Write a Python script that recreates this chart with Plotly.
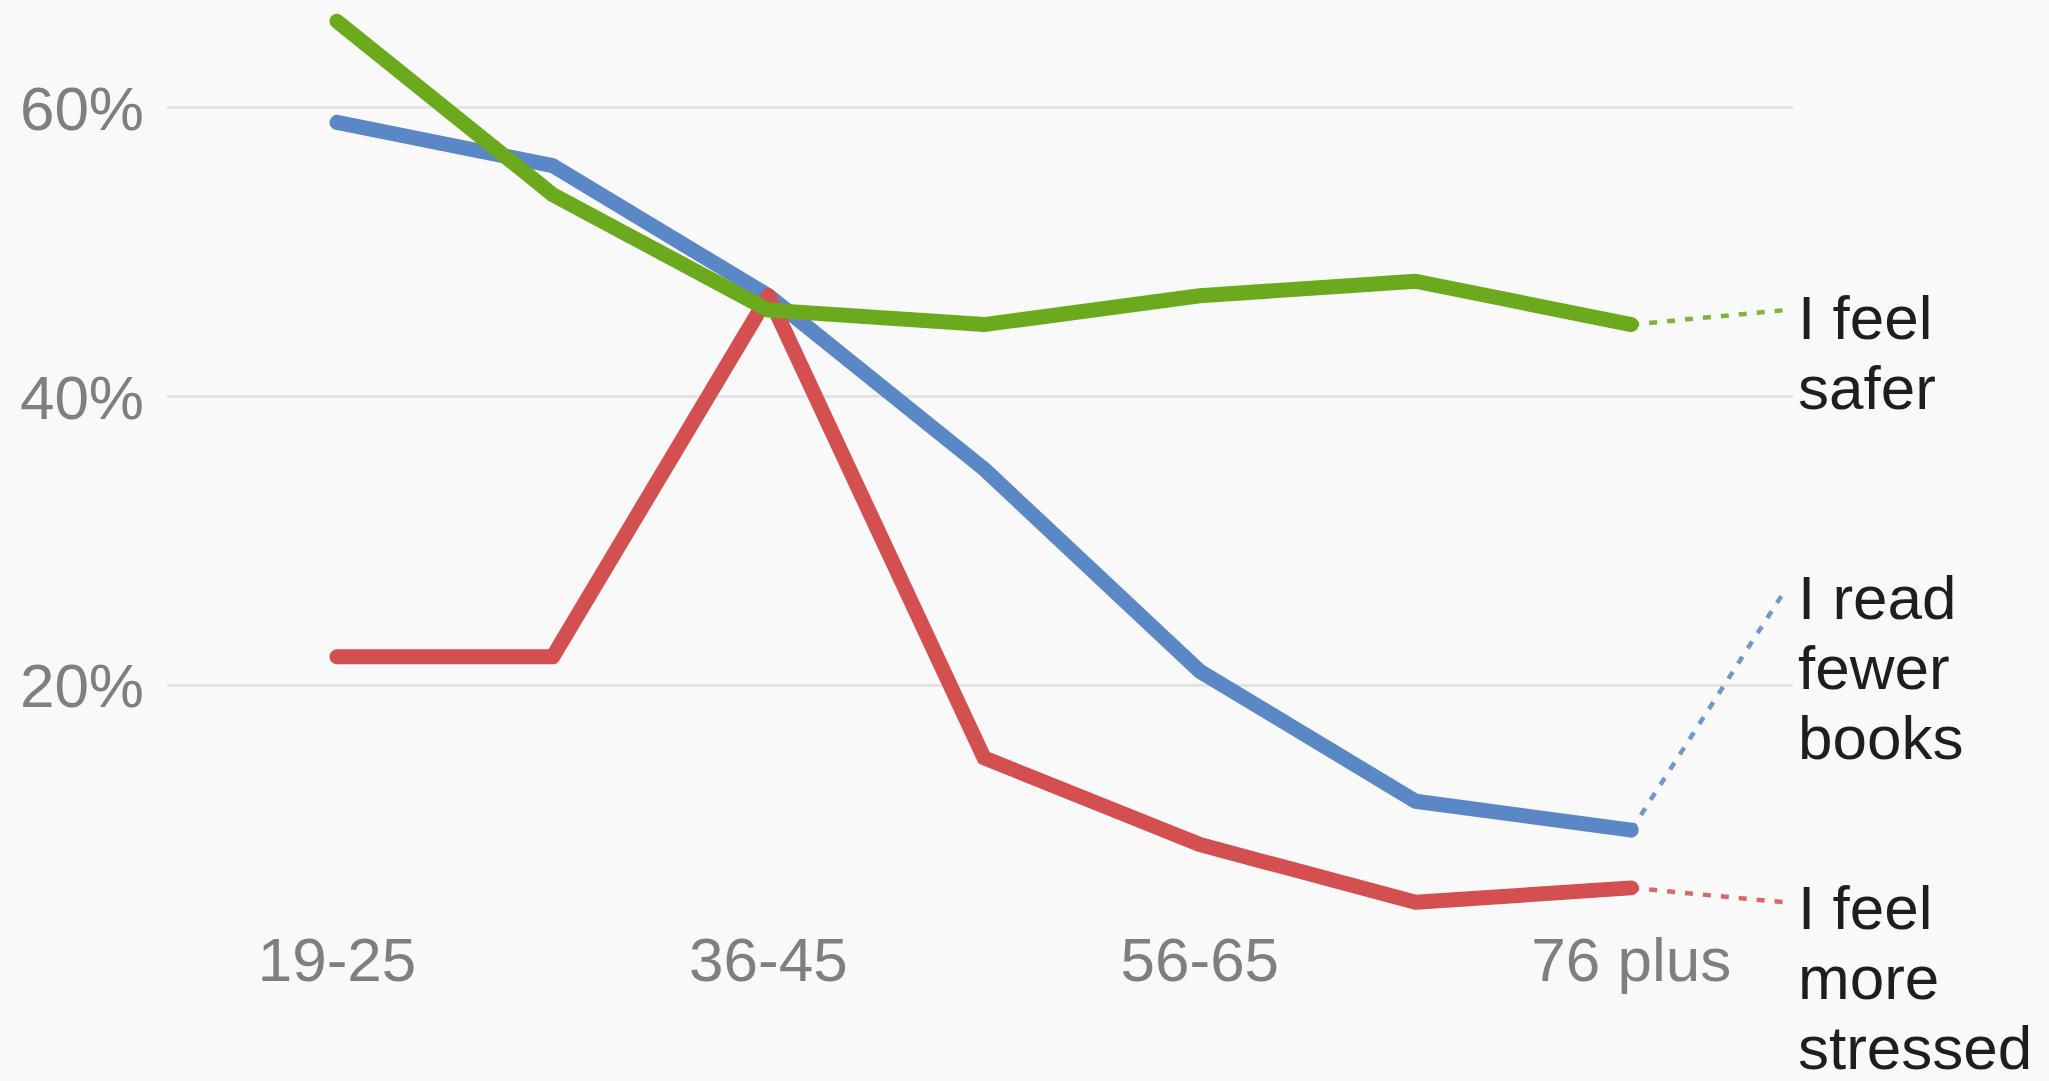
import plotly.graph_objects as go

# Age groups along the x axis (only every other one is labelled)
age_groups = ["19-25", "26-35", "36-45", "46-55", "56-65", "66-75", "76 plus"]
shown_ticks = ["19-25", "36-45", "56-65", "76 plus"]

# Share of respondents (%) per age group
fewer_books = [59, 56, 47, 35, 21, 12, 10]
more_stressed = [22, 22, 47, 15, 9, 5, 6]
feel_safer = [66, 54, 46, 45, 47, 48, 45]

y_ticks = [20, 40, 60]
y_tick_labels = ["20%", "40%", "60%"]

series_names = ["I read fewer books", "I feel more stressed", "I feel safer"]
series_values = [fewer_books, more_stressed, feel_safer]
label_lines = [["I read", "fewer", "books"], ["I feel", "more", "stressed"], ["I feel", "safer"]]

# Styling and label placement
colors = ["#5a87c5", "#d44f50", "#6aaa1c"]
X_RANGE = [-0.788, 6.75]
Y_RANGE = [3.5, 66.78]
label_anchor_y = [26.6, 5.0, 46.0]   # where each dotted leader ends (data units)
label_text_y = [26.1, 4.65, 45.5]    # centre of each label's first line (data units)
leader_end_x = 6.713
label_x_paper = 1.0031
line_step = 4.86                      # vertical distance between label lines (data units)
FONT = "Liberation Sans, Arial, Helvetica, sans-serif"


def y_to_paper(v):
    return (v - Y_RANGE[0]) / (Y_RANGE[1] - Y_RANGE[0])


x_pos = list(range(len(age_groups)))

fig = go.Figure()

for name, vals, col, ly in zip(series_names, series_values, colors, label_anchor_y):
    fig.add_trace(go.Scatter(
        x=x_pos, y=vals, mode="lines", name=name,
        line=dict(color=col, width=15),
        hoverinfo="skip",
    ))
    # dotted leader from the last point to the series label
    fig.add_trace(go.Scatter(
        x=[x_pos[-1], leader_end_x], y=[vals[-1], ly], mode="lines",
        line=dict(color=col, width=4.5, dash="8px,10px"),
        opacity=0.85, hoverinfo="skip", showlegend=False,
    ))

for lines, ty in zip(label_lines, label_text_y):
    for i, txt in enumerate(lines):
        fig.add_annotation(
            x=label_x_paper, y=y_to_paper(ty - i * line_step),
            xref="paper", yref="paper",
            text=txt, showarrow=False, xanchor="left", yanchor="middle",
            borderpad=0, borderwidth=0,
            font=dict(family=FONT, size=62, color="#1e1e1e"),
        )

fig.update_layout(
    width=2049, height=1081,
    margin=dict(l=167, r=256, t=10, b=157),
    paper_bgcolor="#f9f9f9", plot_bgcolor="#f9f9f9",
    showlegend=False,
    font=dict(family=FONT, size=62, color="#7f7f7f"),
)

fig.update_xaxes(
    range=X_RANGE,
    tickvals=[age_groups.index(t) for t in shown_ticks], ticktext=shown_ticks,
    showgrid=False, zeroline=False, showline=False, ticks="", ticklen=0,
    ticklabelstandoff=-6,
    tickfont=dict(family=FONT, size=62, color="#7f7f7f"),
)
fig.update_yaxes(
    range=Y_RANGE,
    tickvals=y_ticks, ticktext=y_tick_labels,
    showgrid=True, gridcolor="#e4e4e4", gridwidth=3,
    zeroline=False, showline=False, ticks="", ticklen=0,
    ticklabelstandoff=22,
    tickfont=dict(family=FONT, size=62, color="#7f7f7f"),
)

# Rounded joins and caps on the thick series lines
round_joins = """
document.querySelectorAll('.scatterlayer .js-line').forEach(function (p) {
  if (parseFloat(p.style.strokeWidth) > 8) {
    p.style.strokeLinejoin = 'round';
    p.style.strokeLinecap = 'round';
  }
});
"""

fig.write_html("out.html", post_script=round_joins)
